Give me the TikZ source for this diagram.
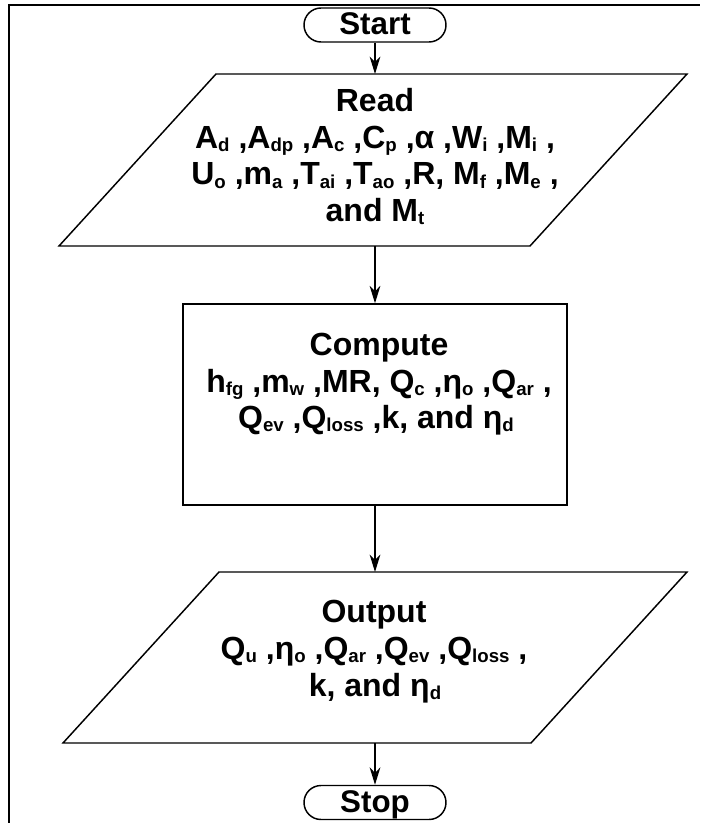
\documentclass[tikz,border=0pt]{standalone}
\usepackage{fontspec}
\setmainfont{Liberation Sans}
\usetikzlibrary{arrows.meta}
% lowered, smaller index text
\newcommand\lo[1]{\raisebox{-2.5pt}{\fontsize{14}{14}\selectfont #1}}
\begin{document}
\begin{tikzpicture}[x=0.75pt,y=-0.75pt,
  shapeline/.style={line width=1.1pt},
  frame/.style={line width=1.6pt},
  flow/.style={line width=1.1pt,-{Stealth[length=13pt,width=8pt,inset=4pt]}},
  txt/.style={anchor=base,inner sep=0pt,font=\fontsize{24}{28}\bfseries\selectfont},
  term/.style={draw,line width=1.1pt,rounded corners=12.75pt,minimum width=106.5pt,
    minimum height=25.5pt,inner sep=0pt,text height=15pt,text depth=0pt,
    font=\fontsize{23.5}{28}\bfseries\selectfont},
  procbox/.style={draw,line width=1.1pt,minimum width=288pt,minimum height=150.75pt}]
\useasboundingbox (0,0) rectangle (700,823);

% outer frame
\draw[frame] (9,823) -- (9,5) -- (700,5);

% terminals
\node[term] (start) at (375,25) {Start};
\node[term] (stop) at (375,802.5) {Stop};

% input parallelogram
\draw[shapeline] (216,74) -- (687,74) -- (530,246) -- (59,246) -- cycle;
\coordinate (readtop) at (375,74);
\coordinate (readbot) at (375,246);
\node[txt] (read1) at (375,112) {Read};
\node[txt] (read2) at (375,148.5) {A\lo{d} ,A\lo{dp} ,A\lo{c} ,C\lo{p} ,α ,W\lo{i} ,M\lo{i} ,};
\node[txt] (read3) at (375,185) {U\lo{o} ,m\lo{a} ,T\lo{ai} ,T\lo{ao} ,R, M\lo{f} ,M\lo{e} ,};
\node[txt] (read4) at (375,221.5) {and M\lo{t}};

% process box
\node[procbox] (comp) at (375,404.5) {};
\node[txt] (comp1) at (379,355) {Compute};
\node[txt] (comp2) at (379,392) {h\lo{fg} ,m\lo{w} ,MR, Q\lo{c} ,η\lo{o} ,Q\lo{ar} ,};
\node[txt] (comp3) at (376,428) {Q\lo{ev} ,Q\lo{loss} ,k, and η\lo{d}};

% output parallelogram
\draw[shapeline] (219,572) -- (687,572) -- (531,743) -- (63,743) -- cycle;
\coordinate (outtop) at (375,572);
\coordinate (outbot) at (375,743);
\node[txt] (out1) at (374,622) {Output};
\node[txt] (out2) at (374,659) {Q\lo{u} ,η\lo{o} ,Q\lo{ar} ,Q\lo{ev} ,Q\lo{loss} ,};
\node[txt] (out3) at (375,696.5) {k, and η\lo{d}};

% flow connectors
\draw[flow] (start.south) -- (readtop);
\draw[flow] (readbot) -- (comp.north);
\draw[flow] (comp.south) -- (outtop);
\draw[flow] (outbot) -- (stop.north);
\end{tikzpicture}
\end{document}
